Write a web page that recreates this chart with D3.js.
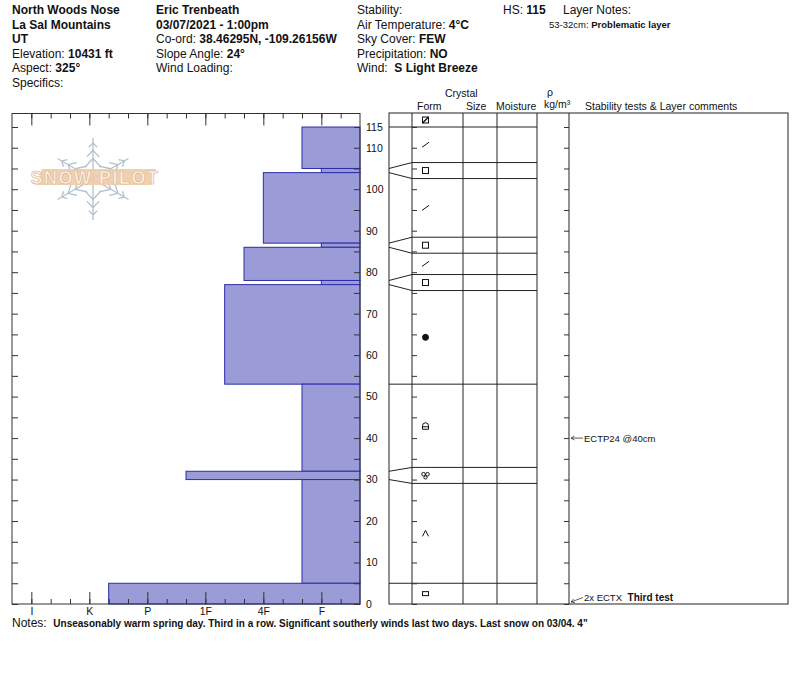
<!DOCTYPE html>
<html>
<head>
<meta charset="utf-8">
<script src="https://cdn.jsdelivr.net/npm/d3@7"></script>
<style>
  body { margin: 0; background: #fff; }
  text { font-family: "Liberation Sans", Arial, sans-serif; fill: #111; white-space: pre; }
</style>
</head>
<body>
<script>
// profile data, top of pit down to the ground (cm)
var layerTop = [115, 105, 104, 87, 86, 78, 77, 53, 32, 30, 5];
var layerBottom = [105, 104, 87, 86, 78, 77, 53, 32, 30, 5, 0];
var layerHardness = ['F+', 'F', '4F', 'F', '4F+', 'F', '1F-', 'F+', '1F+', 'F+', 'K-'];
var layerForm = ['DF', 'FC', 'DF', 'FC', 'DF', 'FC', 'MF', 'FCxr', 'MFcl', 'DH', 'IF'];
var surfaceForm = 'SH';
var hardnessLabels = ['I', 'K', 'P', '1F', '4F', 'F'];
var hardnessOrder = ['I+', 'I', 'I-', 'K+', 'K', 'K-', 'P+', 'P', 'P-', '1F+', '1F', '1F-', '4F+', '4F', '4F-', 'F+', 'F', 'F-'];
var depthTicks = [0, 5, 10, 15, 20, 25, 30, 35, 40, 45, 50, 55, 60, 65, 70, 75, 80, 85, 90, 95, 100, 105, 110, 115];
var depthLabels = [0, 10, 20, 30, 40, 50, 60, 70, 80, 90, 100, 110, 115];
var testDepth = [40, 0];
var testCode = ['ECTP24 @40cm', '2x ECTX'];
var testComment = ['', 'Third test'];

var headerCol1 = [['', 'North Woods Nose'], ['', 'La Sal Mountains'], ['', 'UT'], ['Elevation: ', '10431 ft'], ['Aspect: ', '325°'], ['Specifics:', '']];
var headerCol2 = [['', 'Eric Trenbeath'], ['', '03/07/2021 - 1:00pm'], ['Co-ord: ', '38.46295N, -109.26156W'], ['Slope Angle: ', '24°'], ['Wind Loading:', '']];
var headerCol3 = [['Stability:', ''], ['Air Temperature: ', '4°C'], ['Sky Cover: ', 'FEW'], ['Precipitation: ', 'NO'], ['Wind:  ', 'S Light Breeze']];
var hsValue = '115';
var layerNotes = [['53-32cm: ', 'Problematic layer']];
var notesText = 'Unseasonably warm spring day. Third in a row. Significant southerly winds last two days. Last snow on 03/04. 4"';

var svg = d3.select('body').append('svg').attr('width', 800).attr('height', 676);

// ---- header
function writeRows(rows, x, size) {
    rows.forEach(function(r, i) {
        var t = svg.append('text').attr('x', x).attr('y', 14 + i * 14.5).style('font-size', size + 'px');
        if (r[0]) t.append('tspan').text(r[0]);
        if (r[1]) t.append('tspan').style('font-weight', 'bold').text(r[1]);
    });
}
writeRows(headerCol1, 12, 12);
writeRows(headerCol2, 156, 12);
writeRows(headerCol3, 357, 12);
var hs = svg.append('text').attr('x', 503).attr('y', 14).style('font-size', '12px');
hs.append('tspan').text('HS: ');
hs.append('tspan').style('font-weight', 'bold').text(hsValue);
svg.append('text').attr('x', 563).attr('y', 14).style('font-size', '12px').text('Layer Notes:');
layerNotes.forEach(function(n, i) {
    var t = svg.append('text').attr('x', 549).attr('y', 28 + i * 12).style('font-size', '9.5px');
    t.append('tspan').text(n[0]);
    t.append('tspan').style('font-weight', 'bold').text(n[1]);
});

// ---- scales
var chartLeft = 12, chartRight = 360, chartTop = 113.5, chartBottom = 604;
var y = d3.scaleLinear().domain([0, 115]).range([chartBottom, 127]);
var hx = d3.scaleLinear().domain([-1, 17]).range([chartLeft, chartRight]);
function hardIndex(h) { return hardnessOrder.indexOf(h) - 1; }

// ---- watermark logo
var logo = svg.append('g').attr('transform', 'translate(93,179)');
[-90, -30, 30, 90, 150, 210].forEach(function(a) {
    var r = a * Math.PI / 180, len = 41;
    var arm = logo.append('g').attr('stroke', '#b4c0cc').attr('stroke-width', 1.3).attr('fill', 'none');
    arm.append('line').attr('x1', 0).attr('y1', 0).attr('x2', Math.cos(r) * len).attr('y2', Math.sin(r) * len);
    [[0.5, 12], [0.7, 9], [0.88, 6]].forEach(function(b) {
        var px = Math.cos(r) * len * b[0], py = Math.sin(r) * len * b[0];
        [-0.75, 0.75].forEach(function(s) {
            var br = r + Math.PI + s;
            arm.append('line').attr('x1', px).attr('y1', py)
                .attr('x2', px + Math.cos(br) * b[1]).attr('y2', py + Math.sin(br) * b[1]);
        });
    });
});
svg.append('path').attr('d', 'M42,169 L156,169 L151,185 L36,185 Z').attr('fill', '#f0cba7').attr('opacity', 0.9);
svg.append('text').attr('x', 95).attr('y', 184).attr('text-anchor', 'middle')
    .style('font-size', '18px').style('font-weight', 'bold').style('letter-spacing', '1.5px')
    .style('fill', '#fbf3ea').attr('stroke', '#dfb48c').attr('stroke-width', 0.6).text('SNOW PILOT');

// ---- hardness bars
svg.append('g').selectAll('rect').data(layerTop).enter().append('rect')
    .attr('x', function(d, i) { return hx(hardIndex(layerHardness[i])); })
    .attr('y', function(d) { return y(d); })
    .attr('width', function(d, i) { return chartRight - hx(hardIndex(layerHardness[i])); })
    .attr('height', function(d, i) { return y(layerBottom[i]) - y(d); })
    .attr('fill', '#9b9bd8')
    .attr('stroke', '#2c2ca8')
    .attr('stroke-width', 1);

// frame
svg.append('rect').attr('x', chartLeft).attr('y', chartTop).attr('width', chartRight - chartLeft)
    .attr('height', chartBottom - chartTop).attr('fill', 'none').attr('stroke', '#333');

// hardness axes
var minorIdx = d3.range(0, 17);
var majorIdx = hardnessLabels.map(function(d, i) { return i * 3; });
function cleanAxis(g) { g.select('.domain').remove(); g.selectAll('line').attr('stroke', '#333'); }
svg.append('g').attr('transform', 'translate(0,' + chartBottom + ')')
    .call(d3.axisBottom(hx).tickValues(minorIdx).tickSizeInner(-5).tickSizeOuter(0).tickFormat(''))
    .call(cleanAxis);
svg.append('g').attr('transform', 'translate(0,' + chartBottom + ')')
    .call(d3.axisBottom(hx).tickValues(majorIdx).tickSizeInner(-12).tickSizeOuter(0).tickPadding(4)
        .tickFormat(function(d) { return hardnessLabels[d / 3]; }))
    .call(cleanAxis)
    .selectAll('text').style('font-size', '10.5px').style('font-family', '"Liberation Sans", Arial, sans-serif').attr('fill', '#111');
svg.append('g').attr('transform', 'translate(0,' + chartTop + ')')
    .call(d3.axisTop(hx).tickValues(minorIdx).tickSizeInner(-5).tickSizeOuter(0).tickFormat(''))
    .call(cleanAxis);
svg.append('g').attr('transform', 'translate(0,' + chartTop + ')')
    .call(d3.axisTop(hx).tickValues(majorIdx).tickSizeInner(-12).tickSizeOuter(0).tickFormat(''))
    .call(cleanAxis);

// depth axes
svg.append('g').attr('transform', 'translate(' + chartRight + ',0)')
    .call(d3.axisRight(y).tickValues(depthTicks).tickSizeInner(-6).tickSizeOuter(0).tickPadding(6)
        .tickFormat(function(d) { return depthLabels.indexOf(d) > -1 ? d : ''; }))
    .call(cleanAxis)
    .selectAll('text').style('font-size', '10.5px').style('font-family', '"Liberation Sans", Arial, sans-serif').attr('fill', '#111');
svg.append('g').attr('transform', 'translate(' + chartLeft + ',0)')
    .call(d3.axisLeft(y).tickValues(depthTicks).tickSizeInner(-6).tickSizeOuter(0).tickFormat(''))
    .call(cleanAxis);

// ---- layer table
var col = { left: 389, fan: 412, size: 463, moist: 497, rho: 537, comments: 569, right: 788 };
var tableTop = 113, tableBottom = 604;
var table = svg.append('g').attr('stroke', '#222').attr('fill', 'none');
table.append('rect').attr('x', col.left).attr('y', tableTop).attr('width', col.right - col.left).attr('height', tableBottom - tableTop);
[col.fan, col.size, col.moist, col.rho, col.comments].forEach(function(cx) {
    table.append('line').attr('x1', cx).attr('x2', cx).attr('y1', tableTop).attr('y2', tableBottom);
});

svg.append('g').attr('transform', 'translate(' + col.fan + ',0)')
    .call(d3.axisLeft(y).tickValues(depthTicks).tickSizeInner(-5).tickSizeOuter(0).tickFormat(''))
    .call(cleanAxis);
svg.append('g').attr('transform', 'translate(' + col.comments + ',0)')
    .call(d3.axisRight(y).tickValues(depthTicks).tickSizeInner(-5).tickSizeOuter(0).tickFormat(''))
    .call(cleanAxis);

// thin layers get stretched in the table, boundaries fan out
var minLayerPx = 16;
var bounds = layerTop.concat([0]);
var actualY = bounds.map(function(d) { return y(d); });
var dispY = actualY.slice();
layerTop.forEach(function(t, i) {
    if (y(layerBottom[i]) - y(t) < minLayerPx) {
        var c = (y(t) + y(layerBottom[i])) / 2;
        dispY[i] = c - minLayerPx / 2;
        dispY[i + 1] = c + minLayerPx / 2;
    }
});
table.selectAll('path.bound').data(bounds.slice(0, -1)).enter().append('path')
    .attr('class', 'bound')
    .attr('d', function(d, i) {
        return 'M' + col.left + ',' + actualY[i] + ' L' + col.fan + ',' + dispY[i] + ' H' + col.rho;
    });

// grain form symbols
var symX = 425.5;
function drawForm(g, code) {
    g.attr('stroke', '#111').attr('fill', 'none').attr('stroke-width', 1);
    if (code === 'DF') g.append('path').attr('d', 'M-3.5,2.5 L3.5,-2.5');
    else if (code === 'FC') g.append('rect').attr('x', -3).attr('y', -3).attr('width', 6).attr('height', 6);
    else if (code === 'MF') g.append('circle').attr('r', 3).attr('fill', '#111');
    else if (code === 'FCxr') {
        g.append('path').attr('d', 'M-3,3.5 V0 A3,3 0 0 1 3,0 V3.5 Z');
        g.append('path').attr('d', 'M-3,1 H3');
    } else if (code === 'MFcl') {
        g.append('circle').attr('cx', -2).attr('cy', -1.2).attr('r', 1.8);
        g.append('circle').attr('cx', 2).attr('cy', -1.2).attr('r', 1.8);
        g.append('circle').attr('cx', 0).attr('cy', 2).attr('r', 1.6);
    } else if (code === 'DH') g.append('path').attr('d', 'M-3,3 L0,-3 L3,3');
    else if (code === 'IF') g.append('rect').attr('x', -3).attr('y', -2).attr('width', 6).attr('height', 4);
    else if (code === 'SH') {
        g.append('rect').attr('x', -3).attr('y', -3).attr('width', 6).attr('height', 6);
        g.append('path').attr('d', 'M-3,3 L3,-3').attr('stroke-width', 1.5);
    }
}
layerForm.forEach(function(f, i) {
    var g = svg.append('g').attr('transform', 'translate(' + symX + ',' + ((dispY[i] + dispY[i + 1]) / 2) + ')');
    drawForm(g, f);
});
drawForm(svg.append('g').attr('transform', 'translate(' + symX + ',' + ((tableTop + y(115)) / 2) + ')'), surfaceForm);

// column headings
var heads = [['Form', 417, 110], ['Crystal', 445, 97], ['Size', 466, 110], ['Moisture', 496, 110],
    ['ρ', 547, 96], ['kg/m³', 544, 108], ['Stability tests & Layer comments', 585, 110]];
heads.forEach(function(h) {
    svg.append('text').attr('x', h[1]).attr('y', h[2]).style('font-size', '10.5px').text(h[0]);
});

// stability tests
testDepth.forEach(function(d, i) {
    var ty = y(d), ly = Math.min(ty, 597.5);
    var x0 = 583, x1 = 571, y1 = ly === ty ? ty : ty - 2;
    var ang = Math.atan2(y1 - ly, x1 - x0);
    var g = svg.append('g').attr('stroke', '#333').attr('fill', 'none').attr('stroke-width', 0.8);
    g.append('path').attr('d', 'M' + x0 + ',' + ly + ' L' + x1 + ',' + y1);
    g.append('path').attr('d', 'M' + (x1 - Math.cos(ang - 0.5) * 4) + ',' + (y1 - Math.sin(ang - 0.5) * 4) +
        ' L' + x1 + ',' + y1 + ' L' + (x1 - Math.cos(ang + 0.5) * 4) + ',' + (y1 - Math.sin(ang + 0.5) * 4));
    var t = svg.append('text').attr('x', 584).attr('y', ly + 3.5).style('font-size', '9.5px');
    t.append('tspan').text(testCode[i]);
    if (testComment[i]) t.append('tspan').style('font-weight', 'bold').style('font-size', '10px').text('  ' + testComment[i]);
});

// notes
var nt = svg.append('text').attr('x', 12).attr('y', 627).style('font-size', '12px');
nt.append('tspan').text('Notes:  ');
nt.append('tspan').style('font-weight', 'bold').style('font-size', '10px').text(notesText);
</script>
</body>
</html>
